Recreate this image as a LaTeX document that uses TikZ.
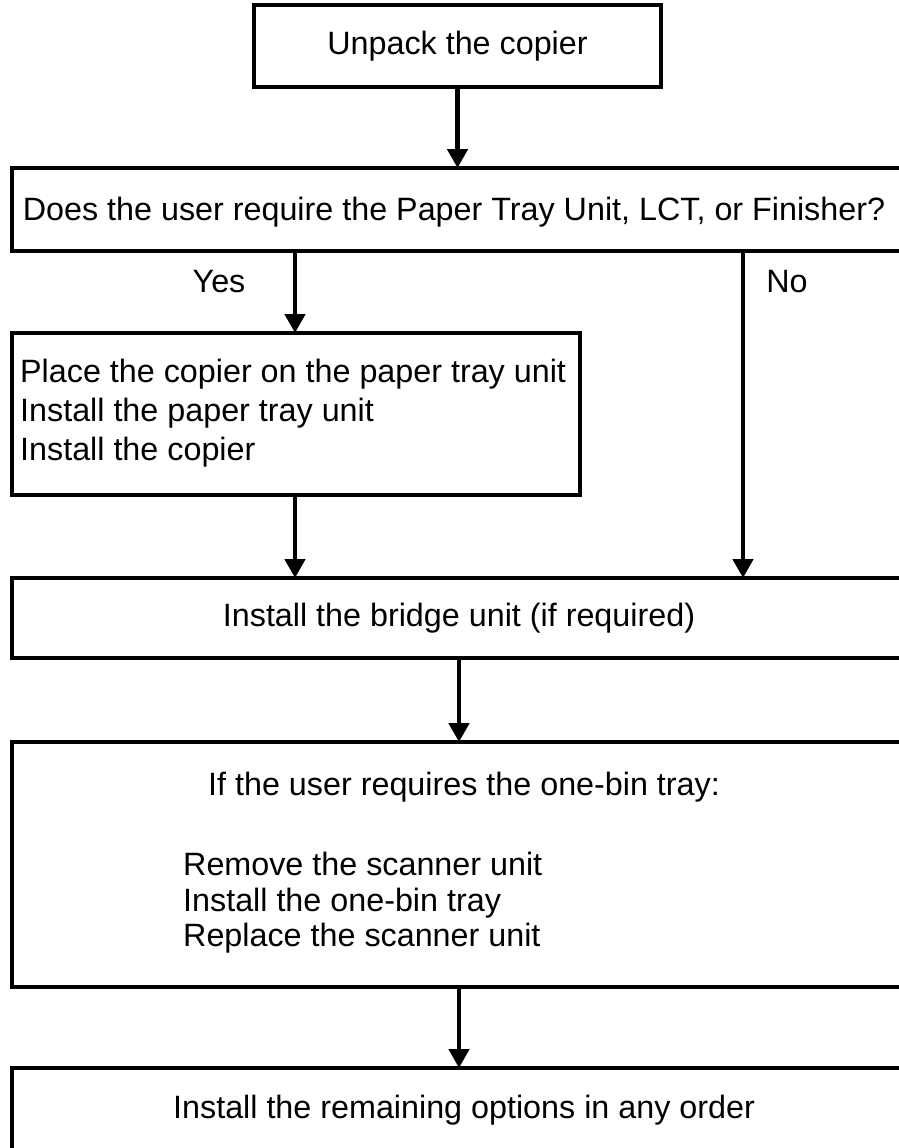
\documentclass[tikz,border=0pt]{standalone}
\usepackage{fontspec}
\setmainfont{Liberation Sans}
\usetikzlibrary{arrows.meta}
\begin{document}
\begin{tikzpicture}[x=1pt,y=-1pt,
  box/.style={draw, line width=4pt, rectangle, inner sep=0pt, outer sep=0pt, anchor=north west},
  txt/.style={font=\fontsize{32.3}{39}\selectfont, inner sep=0pt},
  flow/.style={-{Triangle[width=20pt,length=19pt]}, line width=4.8pt}]
\useasboundingbox (0,0) rectangle (898,1148);

% process boxes
\node[box, minimum width=407pt, minimum height=82pt] (unpack) at (254,5) {};
\node[box, minimum width=894pt, minimum height=83pt] (question) at (12,168) {};
\node[box, minimum width=568pt, minimum height=162pt] (paper) at (12,333) {};
\node[box, minimum width=894pt, minimum height=80pt] (bridge) at (12,578) {};
\node[box, minimum width=894pt, minimum height=245pt] (onebin) at (12,742) {};
\node[box, minimum width=894pt, minimum height=110pt] (options) at (12,1068) {};

% texts
\node[txt] (tunpack) at (unpack.center) {Unpack the copier};
\node[txt] (tquestion) at (454,212) {Does the user require the Paper Tray Unit, LCT, or Finisher?};
\node[txt] (yes) at (219,282) {Yes};
\node[txt] (no) at (787,282) {No};
\node[txt, anchor=west, align=left] (tpaper) at (20,413)
  {Place the copier on the paper tray unit\\Install the paper tray unit\\Install the copier};
\node[txt] (tbridge) at (459,618) {Install the bridge unit (if required)};
\node[txt, anchor=west] (tonebin) at (208,787) {If the user requires the one-bin tray:};
\node[txt, anchor=west, align=left, font=\fontsize{32.3}{35.5}\selectfont] (tsteps) at (183,903)
  {Remove the scanner unit\\Install the one-bin tray\\Replace the scanner unit};
\node[txt, anchor=west] (toptions) at (173,1110) {Install the remaining options in any order};

% branch columns
\coordinate (yescol) at (295,0);
\coordinate (nocol) at (743,0);

% connectors
\draw[flow] (unpack.south) -- (question.north -| unpack.south);
\draw[flow] (question.south -| yescol) -- (paper.north -| yescol);
\draw[flow] (question.south -| nocol) -- (bridge.north -| nocol);
\draw[flow] (paper.south -| yescol) -- (bridge.north -| yescol);
\draw[flow] (bridge.south) -- (onebin.north);
\draw[flow] (onebin.south) -- (options.north);
\end{tikzpicture}
\end{document}
